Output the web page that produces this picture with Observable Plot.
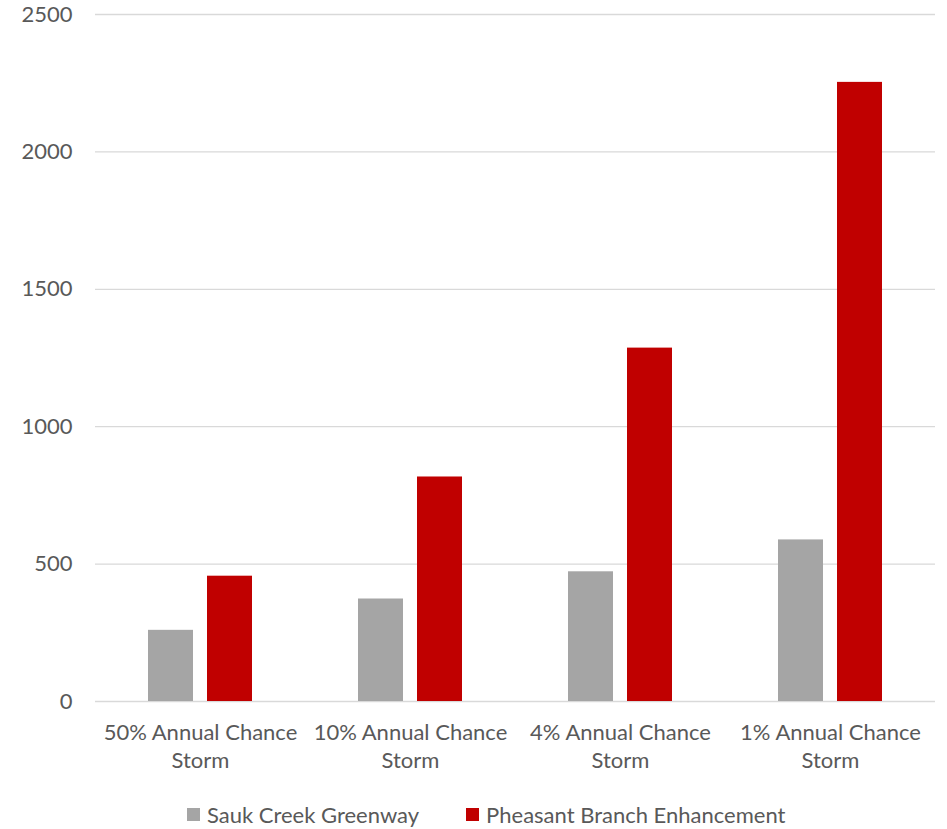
<!DOCTYPE html>
<html><head><meta charset="utf-8">
<script src="https://cdn.jsdelivr.net/npm/d3@7"></script>
<script src="https://cdn.jsdelivr.net/npm/@observablehq/plot@0.6"></script>
<style>
body{margin:0;background:#fff;font-family:Lato,"Open Sans",sans-serif;}
#legend{display:flex;align-items:center;margin-left:187px;margin-top:11px;font-size:22px;color:#595959;}
.item{display:flex;align-items:center;margin-right:47px;}
.sw{width:13px;height:13px;margin-right:7px;}
</style></head><body>
<div id="chart"></div>
<div id="legend"></div>
<script>
const categories = ["50% Annual Chance\nStorm", "10% Annual Chance\nStorm", "4% Annual Chance\nStorm", "1% Annual Chance\nStorm"];
const series = ["Sauk Creek Greenway", "Pheasant Branch Enhancement"];
const saukValues = [259, 373, 472, 588];
const pheasantValues = [456, 817, 1286, 2253];
const yTicks = [0, 500, 1000, 1500, 2000, 2500];
const colors = ["#a5a5a5", "#c00000"];

const data = [];
categories.forEach((c, i) => {
  data.push({category: c, series: series[0], value: saukValues[i]});
  data.push({category: c, series: series[1], value: pheasantValues[i]});
});

const chart = Plot.plot({
  width: 947,
  height: 790,
  marginLeft: 95,
  marginRight: 12,
  marginTop: 14,
  marginBottom: 89,
  style: {fontFamily: "Lato, 'Open Sans', sans-serif", background: "#fff"},
  fx: {domain: categories, padding: 0, axis: null},
  x: {domain: series, paddingInner: 0.233, paddingOuter: 0.867, axis: null},
  y: {domain: [0, 2500], axis: null},
  color: {domain: series, range: colors},
  marks: [
    Plot.gridY(yTicks, {stroke: "#d9d9d9", strokeOpacity: 1, strokeWidth: 1.3}),
    Plot.axisY(yTicks, {tickSize: 0, tickPadding: 23, fontSize: 22, color: "#595959", label: null, tickFormat: d => String(d)}),
    Plot.barY(data, {fx: "category", x: "series", y: "value", fill: "series"}),
    Plot.axisFx({anchor: "bottom", tickSize: 0, tickPadding: 19, fontSize: 22, lineHeight: 1.27, color: "#595959", label: null})
  ]
});
document.getElementById("chart").appendChild(chart);

const legend = document.getElementById("legend");
series.forEach((s, i) => {
  const item = document.createElement("div");
  item.className = "item";
  const sw = document.createElement("div");
  sw.className = "sw";
  sw.style.background = colors[i];
  const t = document.createElement("span");
  t.textContent = s;
  item.appendChild(sw);
  item.appendChild(t);
  legend.appendChild(item);
});
</script>
</body></html>
